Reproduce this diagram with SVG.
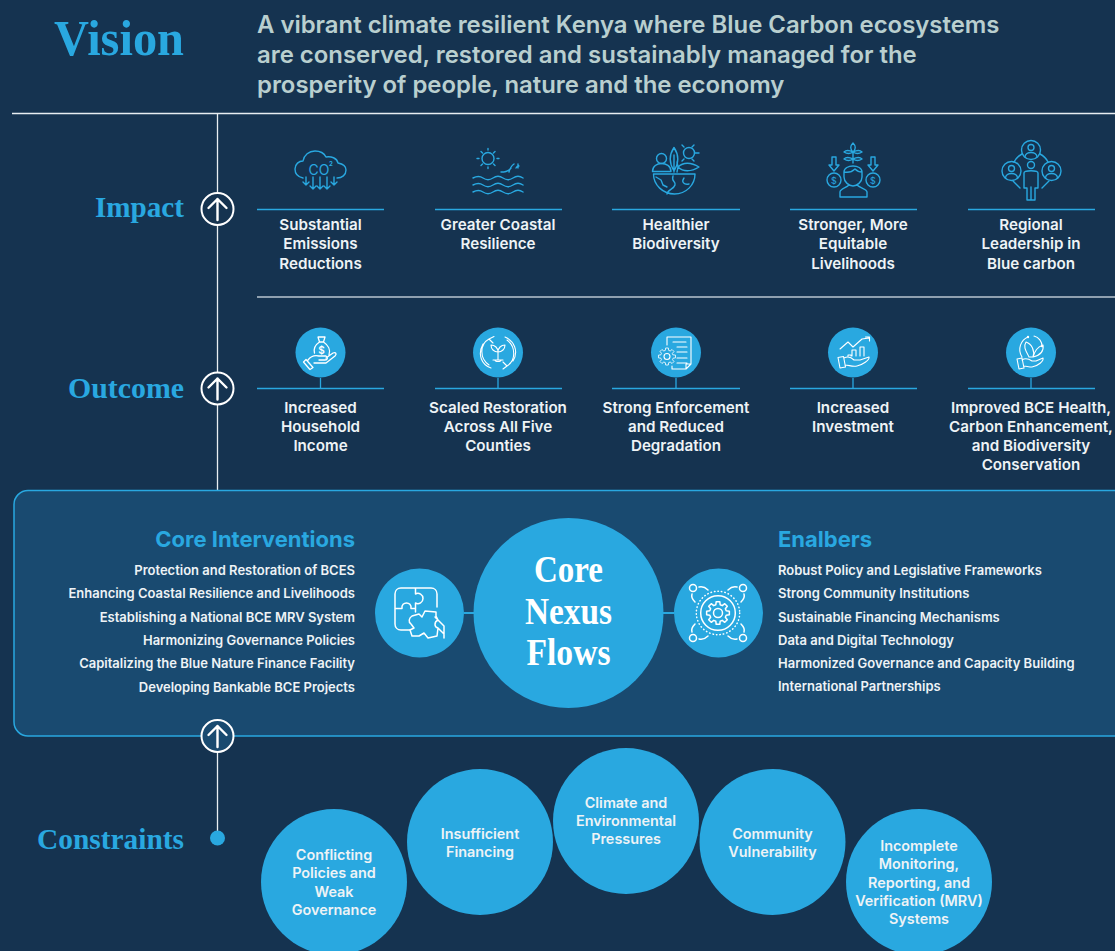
<svg xmlns="http://www.w3.org/2000/svg" width="1115" height="951" viewBox="0 0 1115 951">
<style>
.bg{fill:#153350}
.h{font-family:"Liberation Serif",serif;font-weight:700;font-size:30px;fill:#29a8e0;text-anchor:end}
.t{font-family:Inter,"Liberation Sans",sans-serif;font-weight:600;font-size:15.2px;fill:#eef3f6;text-anchor:middle}
.s{font-family:Inter,"Liberation Sans",sans-serif;font-weight:600;font-size:13px;fill:#eef3f6}
.c{font-family:Inter,"Liberation Sans",sans-serif;font-weight:600;font-size:14.4px;fill:#eef3f6;text-anchor:middle}
.sub{font-family:Inter,"Liberation Sans",sans-serif;font-weight:700;font-size:22px;fill:#29a8e0}
.n{font-family:"Liberation Serif",serif;font-weight:700;font-size:37px;fill:#fff;text-anchor:middle}
.rule{stroke:#29a8e0;stroke-width:1.3;fill:none}
.ic{fill:none;stroke:#29a8e0;stroke-width:1.4;stroke-linecap:round;stroke-linejoin:round}
.ict{font-family:Inter,sans-serif;fill:#29a8e0;text-anchor:middle}
.iw{fill:none;stroke:#fff;stroke-width:1.1;stroke-linecap:round;stroke-linejoin:round}
.ib{fill:none;stroke:#fff;stroke-width:1.5;stroke-linecap:round;stroke-linejoin:round}
.dot{fill:#29a8e0}
.up{fill:#153350;stroke:#fff;stroke-width:2}
.ar{fill:none;stroke:#fff;stroke-width:2.4;stroke-linecap:round;stroke-linejoin:round}
</style>
<defs>
<path id="gearP" d="M8.21 -2.2L11.36 -1.8L11.36 1.8L8.21 2.2L7.36 4.25L9.3 6.76L6.76 9.3L4.25 7.36L2.2 8.21L1.8 11.36L-1.8 11.36L-2.2 8.21L-4.25 7.36L-6.76 9.3L-9.3 6.76L-7.36 4.25L-8.21 2.2L-11.36 1.8L-11.36 -1.8L-8.21 -2.2L-7.36 -4.25L-9.3 -6.76L-6.76 -9.3L-4.25 -7.36L-2.2 -8.21L-1.8 -11.36L1.8 -11.36L2.2 -8.21L4.25 -7.36L6.76 -9.3L9.3 -6.76L7.36 -4.25Z"/>
</defs>
<rect class="bg" width="1115" height="951"/>
<g id="vision">
<text x="184" y="55" class="h" style="font-size:50px" textLength="130" lengthAdjust="spacingAndGlyphs">Vision</text>
<g font-family="Inter,'Liberation Sans',sans-serif" font-weight="600" font-size="23.9px" fill="#b9cfcf">
<text x="257" y="33">A vibrant climate resilient Kenya where Blue Carbon ecosystems</text>
<text x="257" y="63">are conserved, restored and sustainably managed for the</text>
<text x="257" y="93">prosperity of people, nature and the economy</text>
</g>
</g>
<g id="connectors">
<path d="M12 113.500H1115M217.500 113V490M217.500 736V838" stroke="#e8eef2" stroke-width="1.300" fill="none"/>
<path d="M257 297H1115" stroke="#b9c6cf" stroke-width="1.300" fill="none"/>
</g>
<g id="impact">
<text x="184" y="217" class="h" textLength="89" lengthAdjust="spacingAndGlyphs">Impact</text>
<circle class="up" cx="217.500" cy="209" r="16"/><path class="ar" d="M217.500 220V199M208.500 208L217.500 199L226.500 208"/>
</g>
<g id="impact-1">
<path class="rule" d="M257 209.500H384"/>
<path class="ic" d="M303 178c-5-1-8-4-8-9 0-5 4-8 8-8 1-6 6-10 12-10 5 0 9 2 11 6 5-1 11 1 12 6 5 1 8 4 8 7 0 5-4 8-9 8"/>
<text x="319" y="175" class="ict" font-size="14">CO</text><text x="331" y="166" class="ict" font-size="6" font-weight="700">2</text>
<path class="ic" d="M306 177V185M303 182L306 185L309 182M313 177V189M310 186L313 189L316 186M320 177V189M317 186L320 189L323 186M327 177V189M324 186L327 189L330 186M334 177V185M331 182L334 185L337 182"/>
<text x="320.500" y="230" class="t">Substantial</text><text x="320.500" y="249" class="t">Emissions</text><text x="320.500" y="269" class="t">Reductions</text>
</g>
<g id="impact-2">
<path class="rule" d="M435 209.500H562"/>
<circle class="ic" cx="488" cy="158.500" r="6"/>
<path class="ic" d="M488 148.500V150M488 167V168.500M477 158.500H479M497 158.500H499M481 151.500L482.500 153M493.500 164L495 165.500M495 151.500L493.500 153M482.500 164L481 165.500M501 172C506 172 509 171 511 168M509 172C510 168 511 166 514 164M516 168C517 166 518 166 519 166M518 168V164"/>
<path class="ic" d="M473 178c4-2 7-2 10 0s7 2 10 0 7-2 10 0 7 2 10 0 7-2 10 0M473 185c4-2 7-2 10 0s7 2 10 0 7-2 10 0 7 2 10 0 7-2 10 0M473 192c4-2 7-2 10 0s7 2 10 0 7-2 10 0 7 2 10 0 7-2 10 0"/>
<text x="498" y="230" class="t">Greater Coastal</text><text x="498" y="249" class="t">Resilience</text>
</g>
<g id="impact-3">
<path class="rule" d="M612 209.500H740"/>
<circle class="ic" cx="661.500" cy="158.500" r="5"/><circle class="ic" cx="689" cy="153" r="5.500"/>
<path class="ic" d="M653.500 174H695C695 185 686 194 674.500 194C663 194 653.500 185 653.500 174ZM652.500 171.500C652.500 166 657 163.500 661.500 163.500C666 163.500 671 166 671 171.500ZM674 172V155M674 171C669 163 669 155 674 147.500C679 155 679 163 674 171ZM678 167C683 162 691 162 699 167C691 172 683 172 678 167ZM678 167L677 162M678 167L677 172M694.500 153H699M684 147l-2-2M692 147l2-2M684 159l-2 2M692 159l2 2M656 177l5 3 2 5 4 2M673 176c-2 6 3 5 2 9s-8 5-8 9M684 178c-3 4 0 7 5 6"/>
<text x="676" y="230" class="t">Healthier</text><text x="676" y="249" class="t">Biodiversity</text>
</g>
<g id="impact-4">
<path class="rule" d="M790 209.500H917"/>
<path class="ic" d="M853 143c3 3 3 6 0 9c-3-3-3-6 0-9ZM853 152V163M853 152c-4-2-7-2-9 0 3 2 6 2 9 0c4-2 7-2 9 0-3 2-6 2-9 0M853 159c-4-2-7-2-9 0 3 2 6 2 9 0c4-2 7-2 9 0-3 2-6 2-9 0M832 157V165H829L834 171L839 165H836V157ZM871 157V165H868L873 171L878 165H875V157Z"/>
<circle class="ic" cx="834" cy="180" r="7"/><circle class="ic" cx="873" cy="180" r="7"/>
<path class="ic" d="M844 172C844 164 862 164 862 172V177C862 182 857 186 853 186C849 186 844 182 844 177ZM844 172C849 173 853 171 855 169C857 171 860 172 862 172M840 197V192C840 189 846 188 849 185M867 197V192C867 189 860 188 857 185M840 197H867"/>
<text x="834" y="183.500" class="ict" font-size="9">$</text><text x="873" y="183.500" class="ict" font-size="9">$</text>
<text x="853" y="230" class="t">Stronger, More</text><text x="853" y="249" class="t">Equitable</text><text x="853" y="269" class="t">Livelihoods</text>
</g>
<g id="impact-5">
<path class="rule" d="M968 209.500H1095"/>
<circle class="ic" cx="1031" cy="150" r="9.500"/><circle class="ic" cx="1011.500" cy="171" r="9.500"/><circle class="ic" cx="1051.500" cy="171" r="9.500"/>
<circle class="ic" cx="1031" cy="147.500" r="3"/><circle class="ic" cx="1011.500" cy="168.500" r="3"/><circle class="ic" cx="1051.500" cy="168.500" r="3"/>
<path class="ic" d="M1025 157C1025 151 1037 151 1037 157M1005.500 178C1005.500 172 1017.500 172 1017.500 178M1045.500 178C1045.500 172 1057.500 172 1057.500 178M1022 154C1018 156 1016 158 1014 162M1040 154C1044 156 1046 158 1048 162M1013 181L1020 188M1049 181L1042 188"/>
<circle class="ic" cx="1031" cy="165" r="3.500"/>
<path class="ic" d="M1024 173C1024 170 1038 170 1038 173V188H1035V200H1027V188H1024ZM1031 187V200"/>
<text x="1031" y="230" class="t">Regional</text><text x="1031" y="249" class="t">Leadership in</text><text x="1031" y="269" class="t">Blue carbon</text>
</g>
<g id="outcome">
<text x="184" y="398" class="h" textLength="116" lengthAdjust="spacingAndGlyphs">Outcome</text>
<circle class="up" cx="217.500" cy="388.500" r="16"/><path class="ar" d="M217.500 399.500V378.500M208.500 387.500L217.500 378.500L226.500 387.500"/>
</g>
<g id="outcome-1">
<path class="rule" d="M257 388.500H384M320.500 378V388"/>
<circle class="dot" cx="320.500" cy="352.500" r="25"/>
<path class="iw" style="stroke-width:1.300" d="M318 337H325L323.500 342H319.500ZM319.500 342C315 345 313.500 349 314.500 353M323.500 342C328 345 331 350 329 355M303.500 362L309.500 369M303.500 362L306 359.500L313 367.500L310 369.500M308 360C311 356 315 355 319 356H326C328 357 328 360 325 360H319M326 358L333 353C336 352 337 354 335 356L326 363H314"/>
<text x="321.500" y="354" font-family="Inter,sans-serif" font-size="10" font-weight="600" fill="#fff" text-anchor="middle">$</text>
<text x="320.500" y="413" class="t">Increased</text><text x="320.500" y="432" class="t">Household</text><text x="320.500" y="451" class="t">Income</text>
</g>
<g id="outcome-2">
<path class="rule" d="M435 388.500H562M498 378V388"/>
<circle class="dot" cx="498" cy="352.500" r="25"/>
<path class="iw" d="M489 365C479 358 480 344 489 339M507 340C516 347 516 360 507 366M491 368C482 365 477 355 483 344M505 337C514 341 519 351 513 361M489 339L494 336.500M489 339L493 343M507 366L503 369M507 366L503 362M498 360V351M498 352C494 352 491 349 491 345C495 345 498 348 498 352ZM498 352C502 352 505 349 505 345C501 345 498 348 498 352ZM493 360H503M495 360C495 362 501 362 501 360"/>
<text x="498" y="413" class="t">Scaled Restoration</text><text x="498" y="432" class="t">Across All Five</text><text x="498" y="451" class="t">Counties</text>
</g>
<g id="outcome-3">
<path class="rule" d="M612 388.500H740M676 378V388"/>
<circle class="dot" cx="676" cy="352.500" r="25"/>
<path class="iw" d="M667 345V337H691V364M691 364L686 369H672V366M686 369V364H691M673 342H686M677 347H687M677 352H687M677 358H687M677 363H687"/>
<use href="#gearP" class="iw" transform="translate(667 356.500) scale(.75)"/><circle class="iw" cx="667" cy="356.500" r="3"/>
<text x="676" y="413" class="t">Strong Enforcement</text><text x="676" y="432" class="t">and Reduced</text><text x="676" y="451" class="t">Degradation</text>
</g>
<g id="outcome-4">
<path class="rule" d="M790 388.500H917M853 378V388"/>
<circle class="dot" cx="853" cy="352.500" r="25"/>
<path class="iw" d="M840 349L848 342L853 347L862 339L869 338M865.500 337H869.500V341M848 355H851V356M848 355V356M852 356V350H856V356M860 356V347H864V356M838 357.500L843.500 356.500L845.500 367L840 368ZM844 358C848 356 851 357 854 360L860 360L869 357C870 360 862 365 857 366C852 367 849 365 845 365"/>
<text x="853" y="413" class="t">Increased</text><text x="853" y="432" class="t">Investment</text>
</g>
<g id="outcome-5">
<path class="rule" d="M968 388.500H1095M1031 378V388"/>
<circle class="dot" cx="1031" cy="352.500" r="25"/>
<path class="iw" d="M1022 357C1017 349 1021 340 1028 337M1034 336C1039 337 1042 342 1042 346M1029 357C1026 351 1023 347 1026 342C1032 344 1035 351 1033 357ZM1033 357C1035 351 1037 347 1043 345C1044 351 1041 355 1033 357M1017 359L1022 358L1024 368L1019 369ZM1022 360C1025 358 1029 359 1032 361L1036 361L1043 358C1044 361 1038 366 1032 367C1029 367 1026 366 1024 366"/>
<circle cx="1028" cy="337" r="1.200" fill="#fff"/><circle cx="1042" cy="346" r="1.200" fill="#fff"/>
<text x="1031" y="413" class="t">Improved BCE Health,</text><text x="1031" y="432" class="t">Carbon Enhancement,</text><text x="1031" y="451" class="t">and Biodiversity</text><text x="1031" y="470" class="t">Conservation</text>
</g>
<g id="core-panel">
<rect x="14" y="490.500" width="1120" height="245.500" rx="14" fill="#194a70" stroke="#29a8e0" stroke-width="1.500"/>
</g>
<g id="core-interventions">
<text x="355" y="547" class="sub" text-anchor="end">Core Interventions</text>
<g class="s" text-anchor="end">
<text x="355" y="575">Protection and Restoration of BCES</text>
<text x="355" y="598">Enhancing Coastal Resilience and Livelihoods</text>
<text x="355" y="622">Establishing a National BCE MRV System</text>
<text x="355" y="645">Harmonizing Governance Policies</text>
<text x="355" y="668">Capitalizing the Blue Nature Finance Facility</text>
<text x="355" y="692">Developing Bankable BCE Projects</text>
</g>
</g>
<g id="enablers">
<text x="778" y="547" class="sub">Enalbers</text>
<g class="s">
<text x="778" y="575">Robust Policy and Legislative Frameworks</text>
<text x="778" y="598">Strong Community Institutions</text>
<text x="778" y="622">Sustainable Financing Mechanisms</text>
<text x="778" y="645">Data and Digital Technology</text>
<text x="778" y="668">Harmonized Governance and Capacity Building</text>
<text x="778" y="691">International Partnerships</text>
</g>
</g>
<g id="core-links"><path d="M464 613H674" stroke="#29a8e0" stroke-width="2" fill="none"/></g>
<g id="puzzle">
<circle class="dot" cx="419.500" cy="613" r="44.500"/>
<path class="ib" d="M415.500 588H401C397.500 588 395 590.500 395 594V608.500H402C401 601 412 601 411 608.500H415.500V603C419 605 423 602 423 598.500C423 595 419 592 415.500 594ZM415.500 588H431C434.500 588 437 590.500 437 594V607M395 608.500V624C395 627.500 397.500 630 401 630H410M415.500 608.500V612"/>
<path class="ib" d="M412 616L419 614L422 617L425 611L436 612L436 616L438 620C434 622 434 627 438 628L437 636L428 638L424 633L419 636L412 636L410 630L414 628L411 624C408 622 409 618 412 616ZM435 617L444 626V638M438 628L444 634"/>
</g>
<g id="core-nexus">
<circle class="dot" cx="568.500" cy="613" r="95"/>
<text x="568.500" y="582" class="n" textLength="69" lengthAdjust="spacingAndGlyphs">Core</text>
<text x="568.500" y="624" class="n" textLength="87" lengthAdjust="spacingAndGlyphs">Nexus</text>
<text x="568.500" y="665" class="n" textLength="84" lengthAdjust="spacingAndGlyphs">Flows</text>
</g>
<g id="gear">
<circle class="dot" cx="718.500" cy="613" r="44.500"/>
<use href="#gearP" class="ib" transform="translate(718 613)"/>
<circle class="ib" cx="718" cy="613" r="4.500"/>
<circle class="ib" cx="718" cy="613" r="17.300"/>
<circle class="ib" style="stroke-dasharray:.5 3" cx="718" cy="613" r="21.700"/>
<circle class="ib" cx="693" cy="588" r="3.500"/><circle class="ib" cx="743" cy="588" r="3.500"/><circle class="ib" cx="693" cy="638" r="3.500"/><circle class="ib" cx="743" cy="638" r="3.500"/>
<path class="ib" d="M699 587C703 586 706 588 708 590M692 594C691 597 693 600 695 602M737 587C733 586 730 588 728 590M744 594C745 597 743 600 741 602M699 639C703 640 706 638 708 636M692 632C691 629 693 626 695 624M737 639C733 640 730 638 728 636M744 632C745 629 743 626 741 624"/>
</g>
<g id="constraints">
<text x="184" y="849" class="h" textLength="147" lengthAdjust="spacingAndGlyphs">Constraints</text>
<circle class="dot" cx="217.500" cy="838" r="7.500"/>
</g>
<g id="constraint-1"><circle class="dot" cx="334" cy="882" r="73"/>
<text x="334" y="860" class="c">Conflicting</text><text x="334" y="878" class="c">Policies and</text><text x="334" y="897" class="c">Weak</text><text x="334" y="915" class="c">Governance</text></g>
<g id="constraint-2"><circle class="dot" cx="480" cy="842" r="73"/>
<text x="480" y="839" class="c">Insufficient</text><text x="480" y="857" class="c">Financing</text></g>
<g id="constraint-3"><circle class="dot" cx="626" cy="821" r="73"/>
<text x="626" y="808" class="c">Climate and</text><text x="626" y="826" class="c">Environmental</text><text x="626" y="844" class="c">Pressures</text></g>
<g id="constraint-4"><circle class="dot" cx="772.500" cy="842" r="73"/>
<text x="772.500" y="839" class="c">Community</text><text x="772.500" y="857" class="c">Vulnerability</text></g>
<g id="constraint-5"><circle class="dot" cx="919" cy="882" r="73"/>
<text x="919" y="851" class="c">Incomplete</text><text x="919" y="869" class="c">Monitoring,</text><text x="919" y="888" class="c">Reporting, and</text><text x="919" y="906" class="c">Verification (MRV)</text><text x="919" y="924" class="c">Systems</text></g>
<g id="core-arrow">
<circle cx="217.500" cy="736" r="16" fill="#194a70" stroke="#fff" stroke-width="2"/><path class="ar" d="M217.500 747V726M208.500 735L217.500 726L226.500 735"/>
</g>
</svg>
